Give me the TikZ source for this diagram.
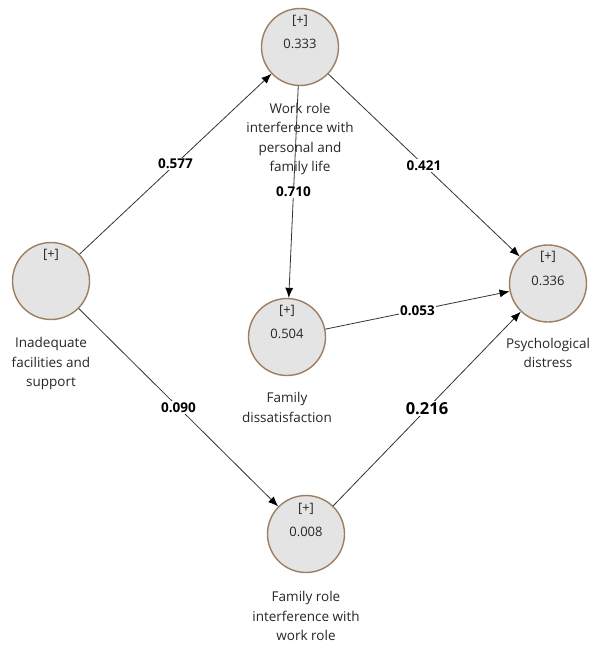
\documentclass[tikz,border=0pt]{standalone}
\usepackage{fontspec}
\setmainfont{Open Sans}
\usetikzlibrary{arrows.meta}
\definecolor{circfill}{HTML}{E4E4E4}
\definecolor{circedge}{HTML}{9C7F62}
\definecolor{txt}{HTML}{262626}
\definecolor{edgec}{HTML}{333333}
\begin{document}
\begin{tikzpicture}[x=1pt,y=-1pt,
  latent/.style={circle,draw=circedge,fill=circfill,line width=1.4pt,minimum size=77pt,inner sep=0pt},
  innertxt/.style={font=\fontsize{13}{14}\selectfont,text=txt,inner sep=0pt},
  caption/.style={font=\fontsize{13.5}{19.5}\selectfont,text=txt,align=center,inner sep=0pt},
  pathedge/.style={draw=edgec,line width=0.8pt,-{Latex[length=10pt,width=8pt,color=black]}},
  coef/.style={fill=white,font=\bfseries\fontsize{13.5}{15}\selectfont,inner sep=1.5pt,text=black},
  coefbig/.style={coef,font=\bfseries\fontsize{16.5}{18}\selectfont}
]
\useasboundingbox (0,0) rectangle (600,648);
% latent variables
\node[latent] (wrk) at (300,47) {};
\node[latent] (ifs) at (51,281) {};
\node[latent] (fds) at (287,337) {};
\node[latent] (psy) at (548,283.5) {};
\node[latent] (frw) at (306,534) {};
% inner texts
\node[innertxt] (wrkp) at (300,21) {[+]};
\node[innertxt] (wrkv) at (300,44) {0.333};
\node[innertxt] (ifsp) at (51,255) {[+]};
\node[innertxt] (fdsp) at (287,311) {[+]};
\node[innertxt] (fdsv) at (287,334) {0.504};
\node[innertxt] (psyp) at (548,257) {[+]};
\node[innertxt] (psyv) at (548,280.5) {0.336};
\node[innertxt] (frwp) at (306,509) {[+]};
\node[innertxt] (frwv) at (306,532) {0.008};
% captions
\node[caption] (wrkc) at (300,139) {Work role\\interference with\\personal and\\family life};
\node[caption] (ifsc) at (51,363.5) {Inadequate\\facilities and\\support};
\node[caption] (fdsc) at (287,407.5) {Family\\dissatisfaction};
\node[caption] (psyc) at (548,353) {Psychological\\distress};
\node[caption] (frwc) at (306,616) {Family role\\interference with\\work role};
% paths
\draw[pathedge] (ifs) -- node[coef] (c1) {0.577} (wrk);
\draw[pathedge] (wrk) -- node[coef] (c2) {0.421} (psy);
\draw[pathedge] (wrk) -- node[coef] (c3) {0.710} (fds);
\draw[pathedge] (fds) -- node[coef] (c4) {0.053} (psy);
\draw[pathedge] (ifs) -- node[coef] (c5) {0.090} (frw);
\draw[pathedge] (frw) -- node[coefbig] (c6) {0.216} (psy);
\end{tikzpicture}
\end{document}
